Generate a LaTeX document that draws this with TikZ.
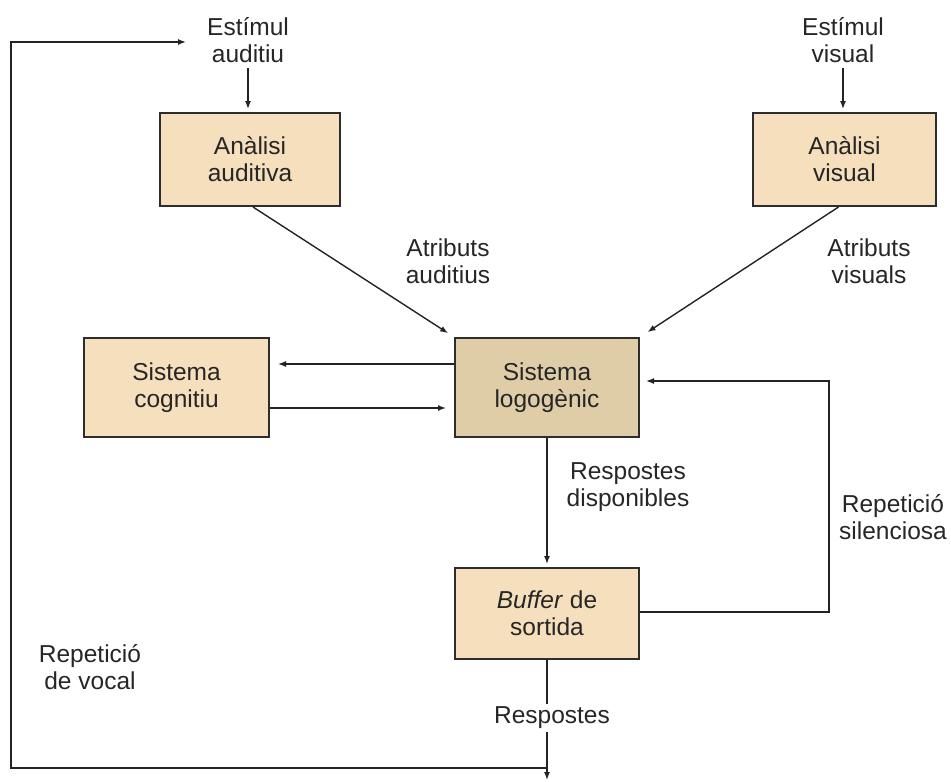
\documentclass[tikz,border=0pt]{standalone}
\usepackage{fontspec}
\setmainfont{Liberation Sans}
\usetikzlibrary{arrows.meta}
\definecolor{boxfill}{RGB}{245,223,188}
\definecolor{corefill}{RGB}{223,205,168}
\definecolor{edge}{RGB}{45,45,45}
\definecolor{wire}{RGB}{35,35,35}
\begin{document}
\begin{tikzpicture}[x=1pt,y=-1pt,
  every node/.style={font=\fontsize{24.5}{27}\selectfont, text=black!85},
  procbox/.style={draw=edge, line width=2pt, fill=boxfill, align=center, inner sep=0pt},
  corebox/.style={procbox, fill=corefill},
  caption/.style={align=center, inner sep=1pt},
  flow/.style={draw=wire, line width=1.4pt, -{Latex[length=8pt,width=6pt]}},
  plain/.style={draw=wire, line width=1.4pt}
]
\useasboundingbox (0,0) rectangle (951,782);

% processing stages
\node[procbox, minimum width=180pt, minimum height=93pt] (aa) at (250,159.5) {Anàlisi\\auditiva};
\node[procbox, minimum width=183pt, minimum height=93pt] (av) at (844.5,159.5) {Anàlisi\\visual};
\node[procbox, minimum width=185pt, minimum height=99pt] (cg) at (176.5,387.5) {Sistema\\cognitiu};
\node[corebox, minimum width=184pt, minimum height=99pt] (lg) at (547,387.5) {Sistema\\logogènic};
\node[procbox, minimum width=184pt, minimum height=91pt] (bf) at (547,613.5) {\textit{Buffer} de\\sortida};

% inputs
\node[caption] (ea) at (248,40) {Estímul\\auditiu};
\node[caption] (ev) at (843,40) {Estímul\\visual};

% edge captions
\node[caption] (lat) at (448,261) {Atributs\\auditius};
\node[caption] (lvt) at (869,261) {Atributs\\visuals};
\node[caption] (lrd) at (628,487) {Respostes\\disponibles};
\node[caption] (lrs) at (893,517) {Repetició\\silenciosa};
\node[caption] (lrv) at (90,667) {Repetició\\de vocal};

% routing points
\coordinate (jn) at (547,768);
\coordinate (out) at (547,780);
\coordinate (bl) at (11,768);
\coordinate (tl) at (11,42);
\coordinate (ti) at (186,42);
\coordinate (rb) at (829,612);
\coordinate (rt) at (829,381);

% stimulus inputs
\path[flow] ([yshift=-4pt]ea.south) -- ([yshift=3pt]ea.south |- aa.north);
\path[flow] ([yshift=-4pt]ev.south) -- ([yshift=3pt]ev.south |- av.north);

% attributes to the logogen system
\path[flow, shorten >=7pt] ([xshift=3pt]aa.south) -- (lg.north west);
\path[flow, shorten >=9pt] ([xshift=-6pt]av.south) -- (lg.north east);

% exchange with the cognitive system
\path[flow, shorten >=8pt] (lg.west |- 0,364) -- (cg.east |- 0,364);
\path[flow, shorten >=8pt] (cg.east |- 0,408) -- (lg.west |- 0,408);

% output path
\path[flow, shorten >=3pt] (lg.south) -- (bf.north);
\path[flow, shorten >=6pt] (bf.east |- rb) -- (rb) -- (rt) -- (lg.east |- rt);

% responses and vocal repetition loop
\path[plain] (bf.south) -- (jn);
\node[fill=white, inner sep=3pt] (lrp) at (552,718) {Respostes};
\path[flow] (jn) -- (out);
\path[flow] (jn) -- (bl) -- (tl) -- (ti);
\end{tikzpicture}
\end{document}
